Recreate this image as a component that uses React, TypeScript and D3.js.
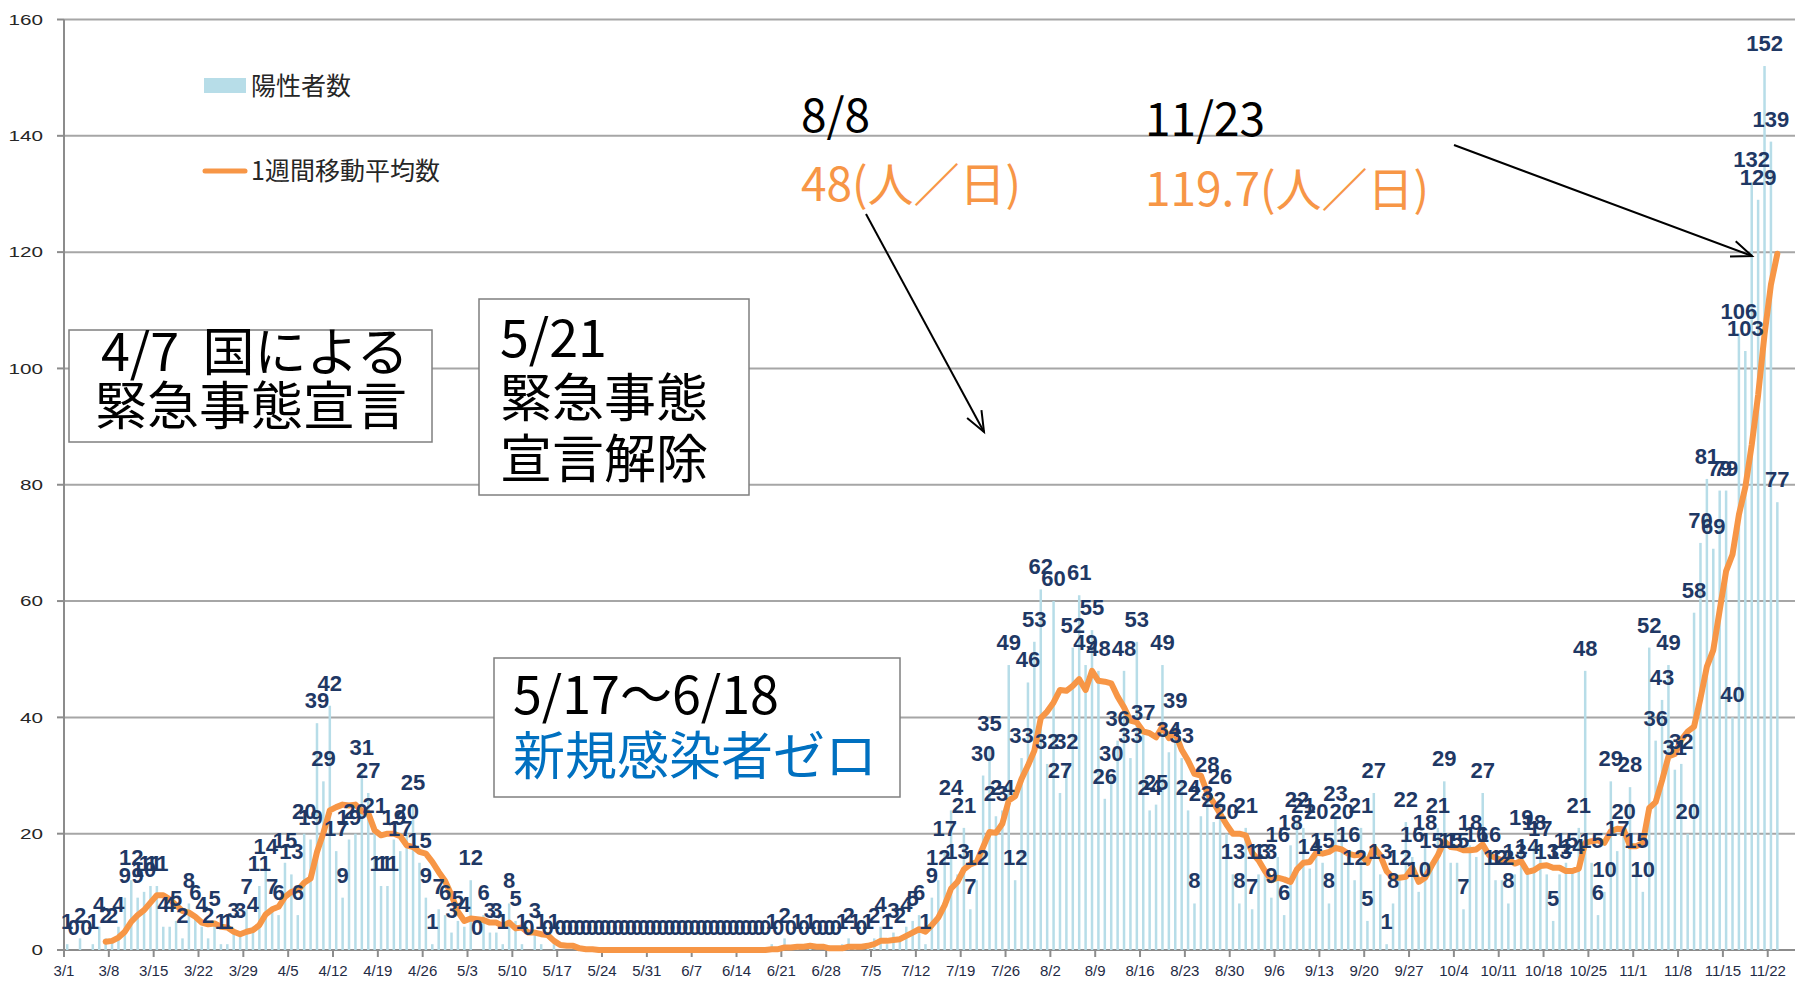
import React, { useEffect, useRef } from "react";
import * as d3 from "d3";

// daily positives, 3/1 .. 11/23 (2020), one array per month
const mar = [1, 0, 2, 0, 1, 4, 2, 2, 4, 9, 12, 9, 10, 11, 11, 4, 4, 5, 2, 8, 6, 4, 2, 5, 1, 1, 3, 3, 7, 4, 11];
const apr = [14, 7, 6, 15, 13, 6, 20, 19, 39, 29, 42, 17, 9, 19, 20, 31, 27, 21, 11, 11, 19, 17, 20, 25, 15, 9, 1, 7, 6, 3];
const may = [5, 4, 12, 0, 6, 3, 3, 1, 8, 5, 1, 0, 3, 1, 0, 1, 0, 0, 0, 0, 0, 0, 0, 0, 0, 0, 0, 0, 0, 0, 0];
const jun = [0, 0, 0, 0, 0, 0, 0, 0, 0, 0, 0, 0, 0, 0, 0, 0, 0, 0, 1, 0, 2, 0, 1, 0, 1, 0, 0, 0, 0, 1];
const jul = [2, 1, 0, 1, 2, 4, 1, 3, 2, 4, 5, 6, 1, 9, 12, 17, 24, 13, 21, 7, 12, 30, 35, 23, 24, 49, 12, 33, 46, 53, 62];
const aug = [32, 60, 27, 32, 52, 61, 49, 55, 48, 26, 30, 36, 48, 33, 53, 37, 24, 25, 49, 34, 39, 33, 24, 8, 23, 28, 22, 26, 20, 13, 8];
const sep = [21, 7, 13, 13, 9, 16, 6, 18, 22, 21, 14, 20, 15, 8, 23, 20, 16, 12, 21, 5, 27, 13, 1, 8, 12, 22, 16, 10, 18, 15];
const oct = [21, 29, 15, 15, 7, 18, 16, 27, 16, 12, 12, 8, 13, 19, 14, 18, 17, 13, 5, 13, 15, 14, 21, 48, 15, 6, 10, 29, 17, 20, 28];
const nov = [15, 10, 52, 36, 43, 49, 31, 32, 20, 58, 70, 81, 69, 79, 79, 40, 106, 103, 132, 129, 152, 139, 77];

const startDate = new Date(2020, 2, 1);
const yTicks = [0, 20, 40, 60, 80, 100, 120, 140, 160];

const JP = "'Noto Sans CJK JP', 'Noto Sans', sans-serif";
const LAT = "'Liberation Sans', Arial, sans-serif";

const App = () => {
   const svgRef = useRef(null);

   useEffect(() => {
      const width = 1795;
      const svg = d3.select(svgRef.current);
      svg.selectAll("*").remove();

      const counts = [...mar, ...apr, ...may, ...jun, ...jul, ...aug, ...sep, ...oct, ...nov];
      const n = counts.length;
      const days = counts.map((_, i) => d3.timeDay.offset(startDate, i));
      // 7-day moving average of the daily counts
      const ma = counts.map((_, i) => (i < 6 ? null : d3.mean(counts.slice(i - 6, i + 1))));

      // ---------------------- scale
      const x = d3.scaleLinear().domain([0, n]).range([64, 64 + n * 6.405]);
      const y = d3.scaleLinear().domain([0, 160]).range([950, 19.5]);
      const axisLeft = x(0);

      // ---------------------- grid + axes
      svg.append("g")
         .selectAll("line")
         .data(yTicks.slice(1))
         .join("line")
         .attr("x1", axisLeft)
         .attr("x2", width)
         .attr("y1", d => y(d))
         .attr("y2", d => y(d))
         .attr("stroke", "#a6a6a6")
         .attr("stroke-width", 2);

      svg.append("g")
         .selectAll("line")
         .data(yTicks)
         .join("line")
         .attr("x1", axisLeft - 7)
         .attr("x2", axisLeft)
         .attr("y1", d => y(d))
         .attr("y2", d => y(d))
         .attr("stroke", "#8c8c8c")
         .attr("stroke-width", 2);

      svg.append("g")
         .selectAll("text")
         .data(yTicks)
         .join("text")
         .attr("x", 43)
         .attr("y", d => y(d))
         .attr("dy", "0.35em")
         .attr("text-anchor", "end")
         .attr("font-family", LAT)
         .attr("font-size", 15)
         .attr("fill", "#262626")
         .attr("textLength", d => String(d).length * 11.5)
         .attr("lengthAdjust", "spacingAndGlyphs")
         .text(d => d);

      svg.append("line")
         .attr("x1", axisLeft)
         .attr("x2", axisLeft)
         .attr("y1", y(160))
         .attr("y2", y(0))
         .attr("stroke", "#8c8c8c")
         .attr("stroke-width", 2);

      svg.append("line")
         .attr("x1", axisLeft)
         .attr("x2", width)
         .attr("y1", y(0))
         .attr("y2", y(0))
         .attr("stroke", "#8c8c8c")
         .attr("stroke-width", 2);

      const weekIdx = d3.range(0, n, 7);
      const fmt = d3.timeFormat("%-m/%-d");
      svg.append("g")
         .selectAll("line")
         .data(weekIdx)
         .join("line")
         .attr("x1", d => x(d))
         .attr("x2", d => x(d))
         .attr("y1", y(0))
         .attr("y2", y(0) + 7)
         .attr("stroke", "#8c8c8c")
         .attr("stroke-width", 2);

      svg.append("g")
         .selectAll("text")
         .data(weekIdx)
         .join("text")
         .attr("x", d => x(d))
         .attr("y", 976)
         .attr("text-anchor", "middle")
         .attr("font-family", LAT)
         .attr("font-size", 15)
         .attr("fill", "#1f2b45")
         .text(d => fmt(days[d]));

      // ---------------------- bars
      svg.append("g")
         .selectAll("rect")
         .data(counts)
         .join("rect")
         .attr("x", (d, i) => x(i + 0.5) - 1.25)
         .attr("width", 2.5)
         .attr("y", d => y(d))
         .attr("height", d => y(0) - y(d))
         .attr("fill", "#b7dde8");

      // ---------------------- moving average
      const line = d3
         .line()
         .defined(d => d[1] != null)
         .x(d => x(d[0] + 0.5))
         .y(d => y(d[1]));
      svg.append("path")
         .datum(ma.map((v, i) => [i, v]))
         .attr("d", line)
         .attr("fill", "none")
         .attr("stroke", "#f79646")
         .attr("stroke-width", 6)
         .attr("stroke-linejoin", "round")
         .attr("stroke-linecap", "round");

      // ---------------------- value labels
      svg.append("g")
         .selectAll("text")
         .data(counts)
         .join("text")
         .attr("x", (d, i) => x(i + 0.5))
         .attr("y", d => y(d) - 15)
         .attr("text-anchor", "middle")
         .attr("font-family", LAT)
         .attr("font-weight", "bold")
         .attr("font-size", 22)
         .attr("fill", "#1f3864")
         .text(d => d);

      // ---------------------- legend
      const legend = svg.append("g");
      legend.append("rect").attr("x", 204).attr("y", 78).attr("width", 42).attr("height", 15).attr("fill", "#b7dde8");
      legend.append("line")
         .attr("x1", 205).attr("x2", 245).attr("y1", 171).attr("y2", 171)
         .attr("stroke", "#f79646").attr("stroke-width", 5).attr("stroke-linecap", "round");
      legend.selectAll("text")
         .data([["陽性者数", 86], ["1週間移動平均数", 171]])
         .join("text")
         .attr("x", 251)
         .attr("y", d => d[1])
         .attr("dy", "0.36em")
         .attr("font-family", JP)
         .attr("font-size", 25)
         .attr("fill", "#262626")
         .text(d => d[0]);

      // ---------------------- annotation boxes
      const boxes = [
         { x: 69, y: 330, w: 363, h: 112, lines: [["4/7\u00a0\u00a0国による", 101, 352, "#000"], ["緊急事態宣言", 95, 406, "#000"]] },
         { x: 479, y: 299, w: 270, h: 196, lines: [["5/21", 500, 338, "#000"], ["緊急事態", 500, 398, "#000"], ["宣言解除", 500, 459, "#000"]] },
         { x: 494, y: 658, w: 406, h: 139, lines: [["5/17〜6/18", 513, 695, "#000"], ["新規感染者ゼロ", 513, 756, "#0070c0"]] }
      ];
      boxes.forEach(b => {
         const g = svg.append("g");
         g.append("rect")
            .attr("x", b.x).attr("y", b.y).attr("width", b.w).attr("height", b.h)
            .attr("fill", "#fff").attr("stroke", "#7f7f7f").attr("stroke-width", 1.5);
         g.selectAll("text")
            .data(b.lines)
            .join("text")
            .attr("x", d => d[1])
            .attr("y", d => d[2])
            .attr("dy", "0.36em")
            .attr("font-family", JP)
            .attr("font-size", 52)
            .attr("fill", d => d[3])
            .text(d => d[0]);
      });

      // ---------------------- callouts
      const callouts = [
         ["8/8", 801, 132, "#000"],
         ["48(人／日)", 801, 201, "#f79646"],
         ["11/23", 1145, 136, "#000"],
         ["119.7(人／日)", 1145, 206, "#f79646"]
      ];
      svg.append("g")
         .selectAll("text")
         .data(callouts)
         .join("text")
         .attr("x", d => d[1])
         .attr("y", d => d[2])
         .attr("font-family", JP)
         .attr("font-size", 46)
         .attr("fill", d => d[3])
         .text(d => d[0]);

      const arrows = [
         [866, 214, 984, 432],
         [1454, 145, 1752, 256]
      ];
      const ag = svg.append("g").attr("stroke", "#000").attr("stroke-width", 2).attr("fill", "none");
      arrows.forEach(([x1, y1, x2, y2]) => {
         ag.append("line").attr("x1", x1).attr("y1", y1).attr("x2", x2).attr("y2", y2);
         const ang = Math.atan2(y2 - y1, x2 - x1);
         const len = 22;
         const spread = 0.38;
         ag.append("path").attr(
            "d",
            `M${x2 - len * Math.cos(ang - spread)},${y2 - len * Math.sin(ang - spread)}L${x2},${y2}L${x2 - len * Math.cos(ang + spread)},${y2 - len * Math.sin(ang + spread)}`
         );
      });
   }, []);

   return (
      <div style={{ position: "absolute", left: 0, top: 0, width: 1795, height: 982, background: "#fff" }}>
         <svg ref={svgRef} width={1795} height={982} style={{ display: "block" }} />
      </div>
   );
};

export default App;
